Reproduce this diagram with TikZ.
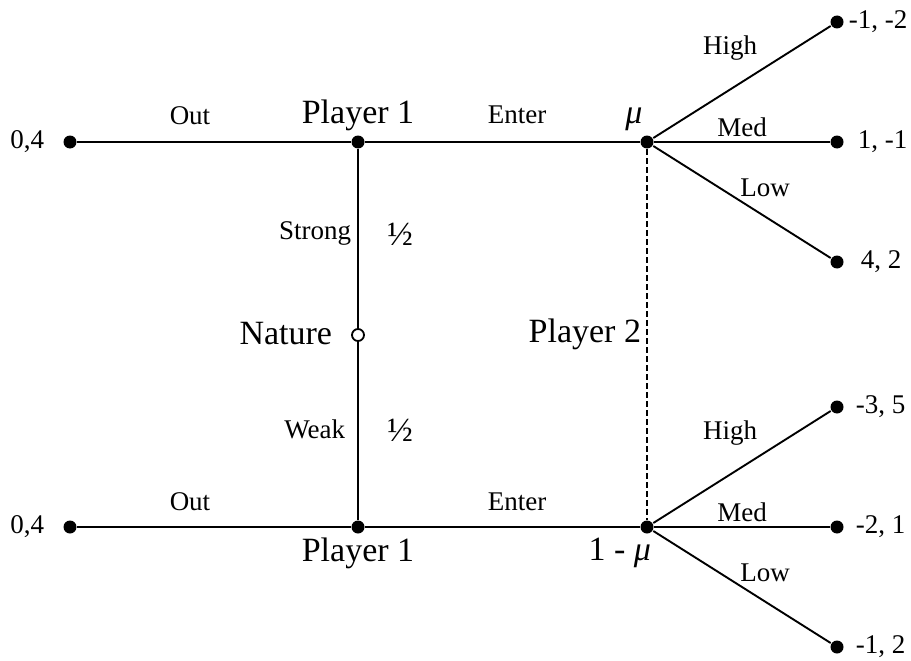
\documentclass[tikz,border=0pt]{standalone}
\usepackage{fontspec}
\setmainfont{Liberation Serif}
\usetikzlibrary{positioning}
\tikzset{dot/.style={circle,fill=black,inner sep=0pt,minimum size=13pt},
    chance/.style={circle,draw,fill=white,line width=1.8pt,inner sep=0pt,minimum size=12pt},
    lbl/.style={inner sep=0pt,font=\fontsize{27}{29}\selectfont},
    big/.style={inner sep=0pt,font=\fontsize{34}{36}\selectfont}}

\begin{document}
\begin{tikzpicture}[x=1pt,y=1pt,yscale=-1,xscale=1,line width=1.9pt]
\useasboundingbox (0,0) rectangle (911,661);

%Decision nodes
\node[dot] (out1) at (70,142) {};
\node[dot] (pone1) at (358,142) {};
\node[dot] (mu1) at (647,142) {};
\node[chance] (nature) at (358,335) {};
\node[dot] (out2) at (70,527) {};
\node[dot] (pone2) at (358,527) {};
\node[dot] (mu2) at (647,527) {};
%Terminal nodes
\node[dot] (high1) at (837,22) {};
\node[dot] (med1) at (837,142) {};
\node[dot] (low1) at (837,262) {};
\node[dot] (high2) at (837,407) {};
\node[dot] (med2) at (837,527) {};
\node[dot] (low2) at (837,647) {};

%Straight Lines
\draw (out1) -- (pone1) -- (mu1);
\draw (out2) -- (pone2) -- (mu2);
\draw (pone1) -- (nature) -- (pone2);
\draw (mu1) -- (high1);
\draw (mu1) -- (med1);
\draw (mu1) -- (low1);
\draw (mu2) -- (high2);
\draw (mu2) -- (med2);
\draw (mu2) -- (low2);
%Information set
\draw [line width=2.3pt,dash pattern={on 6pt off 3pt}] (mu1) -- (mu2);

%Labels
\node[lbl,anchor=east] (pay1) at (45,142) {0,4};
\node[lbl] (lout1) at (190,116) {Out};
\node[big] (lpone1) at (358,115) {Player 1};
\node[lbl] (lenter1) at (517,115) {Enter};
\node[big] (lmu1) at (634,119) {\textit{μ}};
\node[lbl] (lhigh1) at (730,48) {High};
\node[lbl] (lmed1) at (742,127) {Med};
\node[lbl] (llow1) at (765,188) {Low};
\node[lbl,anchor=west] (pay2) at (848,22) {-1, -2};
\node[lbl,anchor=west] (pay3) at (857,142) {1, -1};
\node[lbl,anchor=west] (pay4) at (860,262) {4, 2};

\node[lbl,anchor=east] (lstrong) at (352,233) {Strong};
\node[big] (lhalf1) at (400,234) {½};
\node[big,anchor=east] (lnature) at (333,334) {Nature};
\node[big,anchor=east] (lptwo) at (642,334) {Player 2};
\node[lbl,anchor=east] (lweak) at (346,429) {Weak};
\node[big] (lhalf2) at (400,430) {½};

\node[lbl,anchor=east] (pay5) at (45,527) {0,4};
\node[lbl] (lout2) at (190,502) {Out};
\node[big] (lpone2) at (358,553) {Player 1};
\node[lbl] (lenter2) at (517,502) {Enter};
\node[big,anchor=east] (lmu2) at (652,553) {1 - \textit{μ}};
\node[lbl] (lhigh2) at (730,433) {High};
\node[lbl] (lmed2) at (742,512) {Med};
\node[lbl] (llow2) at (765,573) {Low};
\node[lbl,anchor=west] (pay6) at (855,407) {-3, 5};
\node[lbl,anchor=west] (pay7) at (855,527) {-2, 1};
\node[lbl,anchor=west] (pay8) at (855,647) {-1, 2};

\end{tikzpicture}
\end{document}
